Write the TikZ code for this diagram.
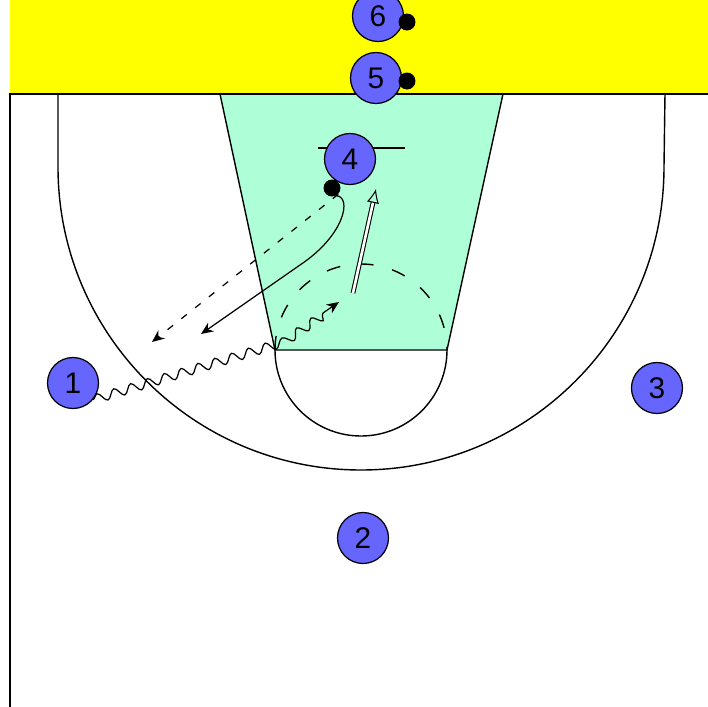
\documentclass[tikz,border=0pt]{standalone}
\usepackage{fontspec}
\setmainfont{Liberation Sans}
\usepackage{xcolor}
\usetikzlibrary{arrows.meta, decorations.pathmorphing}
\definecolor{courtyellow}{HTML}{FFFF00}
\definecolor{lanegreen}{HTML}{AEFFD8}
\definecolor{playerblue}{HTML}{6666FF}

\begin{document}
\begin{tikzpicture}[
  x=0.02cm, y=-0.02cm,
  court/.style={draw=black, line width=0.8pt},
  player/.style={circle, draw=black, line width=0.7pt, fill=playerblue,
    minimum size=1.02cm, inner sep=0pt, font=\fontsize{17}{17}\selectfont},
  ball/.style={circle, fill=black, minimum size=0.34cm, inner sep=0pt},
  pass/.style={line width=0.7pt, dash pattern=on 4pt off 6pt, -{Stealth[length=7pt, width=6pt]}},
  cut/.style={line width=0.7pt, -{Stealth[length=7pt, width=6pt]}},
  dribble/.style={line width=0.7pt, decorate,
    decoration={snake, amplitude=2.6pt, segment length=10pt, post length=8pt},
    -{Stealth[length=7pt, width=6pt]}},
  post/.style={line width=0.6pt, double, double distance=1.5pt, -{Latex[open, length=8pt, width=7pt]}},
]
  \useasboundingbox (0,0) rectangle (708,707);
  \fill[white] (0,0) rectangle (708,707);
  \fill[courtyellow] (10,0) rectangle (708,94);
  \fill[lanegreen] (220,94) -- (503,94) -- (447,350) -- (275,350) -- cycle;

  \draw[court] (10,707) -- (10,94) -- (708,94);
  \draw[court] (220,94) -- (275,350) -- (447,350) -- (503,94);
  \draw[court] (58,94) -- (58,167) arc[start angle=180, end angle=0, radius=303] -- (665,94);
  \draw[court] (275,350) arc[start angle=180, end angle=0, radius=86];
  \draw[court, dash pattern=on 8pt off 11pt] (275,350) arc[start angle=180, end angle=360, radius=86];

  \draw[court] (318,148) -- (405,148);

  \node[player] (p6) at (378,16) {6};
  \node[ball] (b6) at (407,22) {};
  \node[player] (p5) at (376,78) {5};
  \node[ball] (b5) at (407,81) {};
  \node[player] (p4) at (350,159) {4};
  \node[ball] (b4) at (332,188) {};
  \node[player] (p1) at (73,383) {1};
  \node[player] (p3) at (657,388) {3};
  \node[player] (p2) at (363,538) {2};

  \coordinate (passend) at (152,342);
  \coordinate (cutbend) at (300,265);
  \coordinate (cutend) at (201,334);
  \coordinate (postfrom) at (353,293);
  \coordinate (postto) at (376,189);
  \coordinate (drbend) at (278,344);
  \coordinate (drend) at (339,302);

  \draw[pass] (b4.-45) -- (passend);
  \draw[cut] (b4.-60) .. controls (352,197) and (345,235) .. (cutbend) -- (cutend);
  \draw[post] (postfrom) -- (postto);
  \draw[dribble] (p1.-40) -- (drbend) -- (drend);
\end{tikzpicture}
\end{document}
